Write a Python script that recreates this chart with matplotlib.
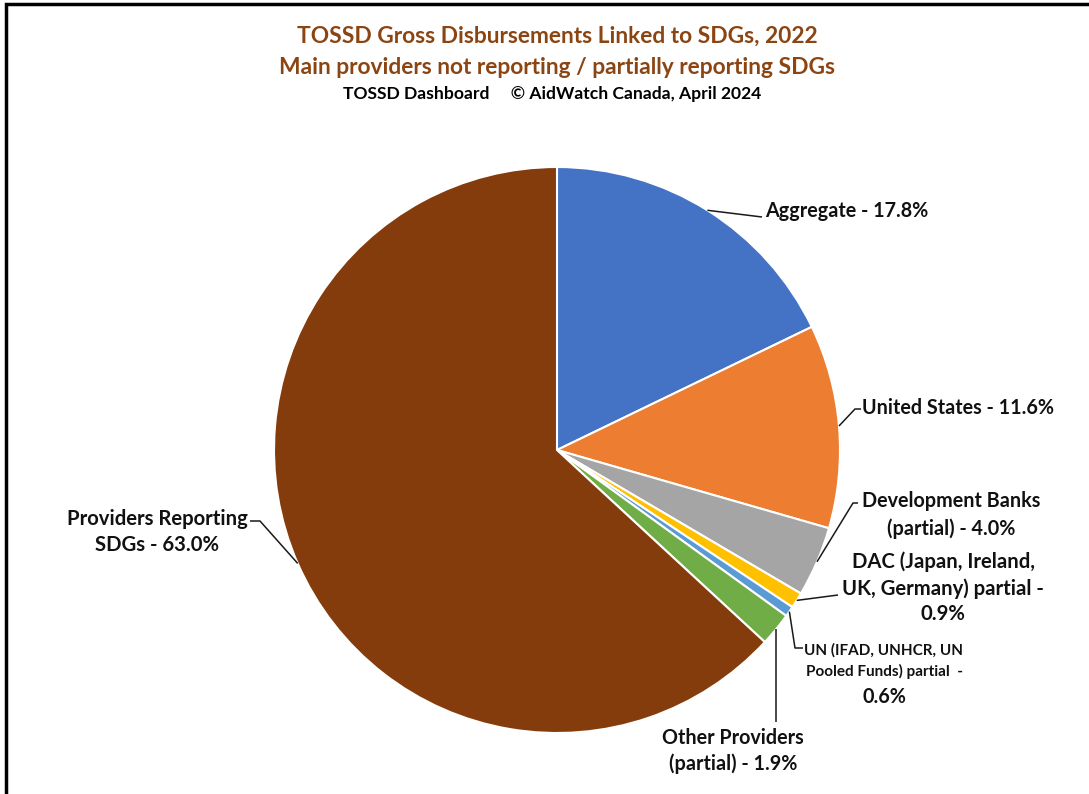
import numpy as np
import matplotlib.pyplot as plt

plt.rcParams['font.family'] = ['Lato', 'DejaVu Sans']
plt.rcParams['font.weight'] = 'bold'

W, H = 1089, 794

labels = ['Aggregate', 'United States', 'Development Banks (partial)',
          'DAC (Japan, Ireland, UK, Germany) partial',
          'UN (IFAD, UNHCR, UN Pooled Funds) partial',
          'Other Providers (partial)', 'Providers Reporting SDGs']
shares = [17.8, 11.6, 4.0, 0.9, 0.6, 1.9, 63.0]
colors = ['#4472C4', '#ED7D31', '#A5A5A5', '#FFC000', '#5B9BD5', '#70AD47', '#843C0C']

label_texts = [
    'Aggregate - {:.1f}%',
    'United States - {:.1f}%',
    'Development Banks\n(partial) - {:.1f}%',
    'DAC (Japan, Ireland,\nUK, Germany) partial -\n{:.1f}%',
    'UN (IFAD, UNHCR, UN\nPooled Funds) partial  -',
    'Other Providers\n(partial) - {:.1f}%',
    'Providers Reporting\nSDGs - {:.1f}%',
]


def at(x, y):
    # pixel position measured from the top-left corner -> data coords
    return x, H - y


fig = plt.figure(figsize=(W / 100, H / 100), dpi=100)
ax = fig.add_axes([0, 0, 1, 1])

centre = at(557, 450)
radius = 283
wedges, _ = ax.pie(shares, colors=colors, startangle=90, counterclock=False,
                   center=centre, radius=radius, frame=True,
                   wedgeprops=dict(edgecolor='white', linewidth=1.5))
ax.set_xlim(0, W)
ax.set_ylim(0, H)
ax.set_aspect('equal')
ax.axis('off')

# label anchor (text position, alignment, size) and the elbow of each leader
layout = [
    dict(xy=(765, 211), ha='left', size=14.2, ls=1.35, elbow=[(762, 217)]),
    dict(xy=(862, 408), ha='left', size=14.2, ls=1.35, elbow=[(855, 409), (861, 409)]),
    dict(xy=(951, 515), ha='center', size=14.2, ls=1.4, elbow=[(853, 503), (858, 503)]),
    dict(xy=(943, 588), ha='center', size=14.6, ls=1.35, elbow=[(838, 595)]),
    dict(xy=(884, 661), ha='center', size=11, ls=1.5, elbow=[(795, 648), (803, 648)]),
    dict(xy=(733, 751), ha='center', size=14.2, ls=1.35, elbow=[(777, 722)]),
    dict(xy=(157, 532), ha='center', size=14.6, ls=1.35, elbow=[(260, 521), (250, 521)]),
]

for i, (w, share, txt, lay) in enumerate(zip(wedges, shares, label_texts, layout)):
    mid = np.deg2rad((w.theta1 + w.theta2) / 2)
    sx = w.center[0] + w.r * np.cos(mid)
    sy = w.center[1] + w.r * np.sin(mid)
    pts = [(sx, sy)] + [at(*p) for p in lay['elbow']]
    xs, ys = zip(*pts)
    if i == 5:
        # straight drop below the slice
        xs = (sx, sx)
    ax.plot(xs, ys, color='#1a1a1a', lw=1.1, solid_capstyle='butt')
    ax.text(*at(*lay['xy']), txt.format(share), ha=lay['ha'], va='center',
            fontsize=lay['size'], fontweight='bold', color='#111111',
            linespacing=lay['ls'])
    if i == 4:
        # the UN value sits on its own line in the larger size
        ax.text(*at(884, 697), '{:.1f}%'.format(share), ha='center', va='center',
                fontsize=14.2, fontweight='bold', color='#111111')

title_col = '#8B4513'
ax.text(*at(557, 36), 'TOSSD Gross Disbursements Linked to SDGs, 2022',
        ha='center', va='center', fontsize=16.4, fontweight='bold', color=title_col)
ax.text(*at(557, 67), 'Main providers not reporting / partially reporting SDGs',
        ha='center', va='center', fontsize=16.4, fontweight='bold', color=title_col)
ax.text(*at(552, 94), 'TOSSD Dashboard     \u00a9 AidWatch Canada, April 2024',
        ha='center', va='center', fontsize=12.6, fontweight='bold', color='black')

# frame along the top and left edges
ax.plot([W, 6, 6], [H - 4, H - 4, 0], color='black', lw=2.5, solid_joinstyle='miter')

fig.savefig('out.png', dpi=100)
